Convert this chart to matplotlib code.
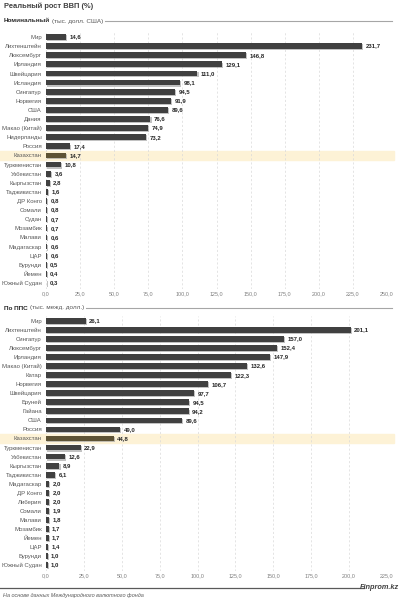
import matplotlib
matplotlib.use("Agg")
import matplotlib.pyplot as plt
import matplotlib.patheffects as pe
from matplotlib.lines import Line2D

plt.rcParams["font.family"] = ["Liberation Sans", "DejaVu Sans"]

# номинальный ВВП на душу (тыс. долл. США)
nom_countries = ["Мир", "Лихтенштейн", "Люксембург", "Ирландия", "Швейцария", "Исландия",
                 "Сингапур", "Норвегия", "США", "Дания", "Макао (Китай)", "Нидерланды",
                 "Россия", "Казахстан", "Туркменистан", "Узбекистан", "Кыргызстан",
                 "Таджикистан", "ДР Конго", "Сомали", "Судан", "Мозамбик", "Малави",
                 "Мадагаскар", "ЦАР", "Бурунди", "Йемен", "Южный Судан"]
nom_values = [14.6, 231.7, 146.8, 129.1, 111.0, 98.1, 94.5, 91.9, 89.6, 76.6, 74.9, 73.2,
              17.4, 14.7, 10.8, 3.6, 2.8, 1.6, 0.8, 0.8, 0.7, 0.7, 0.6, 0.6, 0.6, 0.5,
              0.4, 0.3]
nom_ticks = [0, 25, 50, 75, 100, 125, 150, 175, 200, 225, 250]

# по ППС (тыс. межд. долл.)
ppp_countries = ["Мир", "Лихтенштейн", "Сингапур", "Люксембург", "Ирландия", "Макао (Китай)",
                 "Катар", "Норвегия", "Швейцария", "Бруней", "Гайана", "США", "Россия",
                 "Казахстан", "Туркменистан", "Узбекистан", "Кыргызстан", "Таджикистан",
                 "Мадагаскар", "ДР Конго", "Либерия", "Сомали", "Малави", "Мозамбик",
                 "Йемен", "ЦАР", "Бурунди", "Южный Судан"]
ppp_values = [26.1, 201.1, 157.0, 152.4, 147.9, 132.6, 122.3, 106.7, 97.7, 94.5, 94.2, 89.6,
              49.0, 44.8, 22.9, 12.6, 8.9, 6.1, 2.0, 2.0, 2.0, 1.9, 1.8, 1.7, 1.7, 1.4,
              1.0, 1.0]
ppp_ticks = [0, 25, 50, 75, 100, 125, 150, 175, 200, 225]

HIGHLIGHT = "Казахстан"
BAR = "#404040"
KZ_BAR = "#5e5335"
BAND = "#fdf2d6"

W, H = 401, 600
fig = plt.figure(figsize=(W / 100, H / 100), dpi=100)
fig.patch.set_facecolor("white")


def fx(px):
    return px / W


def fy(py):
    return 1 - py / H


def draw_panel(ax, countries, values, ticks):
    n = len(countries)
    ys = list(range(n))
    colors = [KZ_BAR if c == HIGHLIGHT else BAR for c in countries]
    bars = ax.barh(ys, values, height=0.64, color=colors, zorder=3)
    for b in bars:
        b.set_path_effects([pe.SimplePatchShadow(offset=(0.8, -0.8), shadow_rgbFace="#9a9a9a", alpha=0.6),
                            pe.Normal()])
    for y, v in zip(ys, values):
        ax.annotate(f"{v:.1f}".replace(".", ","), (v, y), xytext=(2.5, 0),
                    textcoords="offset points", va="center", ha="left",
                    fontsize=4.3, fontweight="bold", color="#262626")
    k = countries.index(HIGHLIGHT)
    ax.axhspan(k - 0.5, k + 0.5, xmin=-0.2, xmax=1.02, color=BAND, zorder=0, clip_on=False)
    ax.set_ylim(n - 0.4, -0.6)
    ax.set_xlim(ticks[0], ticks[-1])
    ax.set_yticks(ys)
    ax.set_yticklabels(countries, fontsize=4.3, color="#595959")
    ax.set_xticks(ticks)
    ax.set_xticklabels([f"{t:.1f}".replace(".", ",") for t in ticks], fontsize=3.9, color="#7f7f7f")
    ax.tick_params(length=0, pad=3)
    ax.tick_params(axis="x", pad=2)
    for s in ax.spines.values():
        s.set_visible(False)
    ax.xaxis.grid(True, linestyle=(0, (3, 3)), color="#d9d9d9", linewidth=0.5, zorder=1)
    ax.set_axisbelow(True)
    ax.set_facecolor("none")


ax1 = fig.add_axes([fx(46), fy(288.5), fx(387 - 46), (288.5 - 31.5) / H])
draw_panel(ax1, nom_countries, nom_values, nom_ticks)

ax2 = fig.add_axes([fx(46), fy(570.5), fx(387 - 46), (570.5 - 315.5) / H])
draw_panel(ax2, ppp_countries, ppp_values, ppp_ticks)

# заголовки
fig.text(fx(4), fy(6), "Реальный рост ВВП (%)", fontsize=5.4, fontweight="bold",
         color="#404040", va="center")

renderer = fig.canvas.get_renderer()


def header(py, bold, rest):
    t1 = fig.text(fx(4), fy(py), bold, fontsize=4.6, fontweight="bold", color="#262626", va="center")
    x1 = t1.get_window_extent(renderer).x1
    t2 = fig.text((x1 + 2) / W, fy(py), rest, fontsize=4.6, color="#595959", va="center")
    x2 = t2.get_window_extent(renderer).x1
    fig.add_artist(Line2D([(x2 + 1.5) / W, fx(392)], [fy(py), fy(py)], color="#a6a6a6", lw=0.8))


header(21, "Номинальный", "(тыс. долл. США)")
header(308, "По ППС", "(тыс. межд. долл.)")

# подвал
fig.add_artist(Line2D([fx(0), fx(364)], [fy(588), fy(588)], color="#595959", lw=0.9))
fig.text(fx(399), fy(587.5), "Finprom.kz", fontsize=5.3, fontweight="bold", fontstyle="italic",
         color="#404040", ha="right", va="center")
fig.text(fx(3), fy(595), "На основе данных Международного валютного фонда", fontsize=4.0,
         fontstyle="italic", color="#595959", va="center")

fig.savefig("out.png", dpi=100)
